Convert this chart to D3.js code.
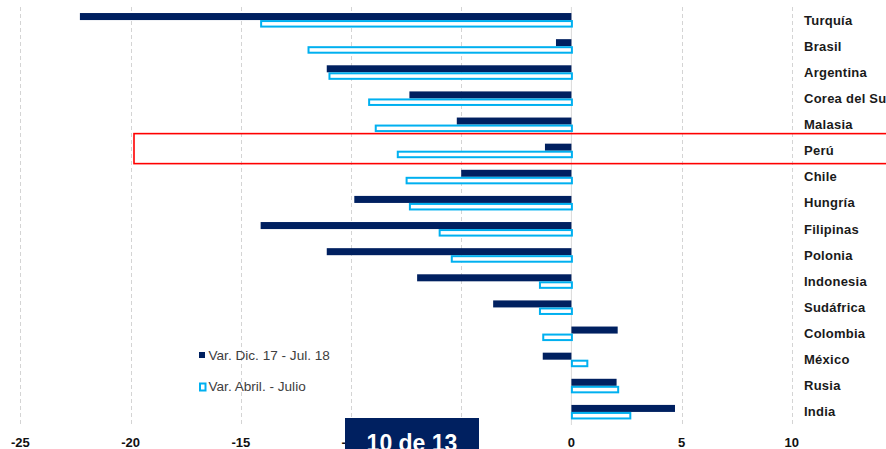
<!DOCTYPE html>
<html>
<head>
<meta charset="utf-8">
<script src="https://cdn.jsdelivr.net/npm/d3@7"></script>
<style>
  html, body { margin: 0; padding: 0; background: #fff; }
  svg { display: block; }
  text { font-family: "Liberation Sans", Arial, sans-serif; }
</style>
</head>
<body>
<svg id="chart" width="886" height="449"></svg>
<script>
const categories = ["Turquía","Brasil","Argentina","Corea del Sur","Malasia","Perú","Chile","Hungría","Filipinas","Polonia","Indonesia","Sudáfrica","Colombia","México","Rusia","India"];
const seriesNames = ["Var. Dic. 17 - Jul. 18", "Var. Abril. - Julio"];
const varDicJul = [-22.3,-0.7,-11.1,-7.35,-5.2,-1.2,-5.0,-9.85,-14.1,-11.1,-7.0,-3.55,2.1,-1.3,2.05,4.7];
const varAbrJul = [-14.1,-11.95,-11.0,-9.2,-8.9,-7.9,-7.5,-7.35,-6.0,-5.45,-1.45,-1.45,-1.3,0.7,2.1,2.65];
const xTicks = [-25,-20,-15,-10,-5,0,5,10];
const highlight = "Perú";
const pageLabel = "10 de 13";

const svg = d3.select("#chart");
const navy = "#002060", sky = "#00b0f0";

const x = d3.scaleLinear().domain([-25, 15]).range([20.4, 902.0]);
const y = d3.scaleBand().domain(categories).range([7, 425]);
const sub = d3.scaleBand().domain(seriesNames).range([0, y.bandwidth()]).paddingOuter(0.86);

// gridlines
svg.append("g").selectAll("line").data(xTicks.filter(d => d !== 0)).join("line")
  .attr("x1", d => Math.round(x(d)) + 0.5).attr("x2", d => Math.round(x(d)) + 0.5)
  .attr("y1", 7).attr("y2", 424)
  .attr("stroke", "#d4d4d4").attr("stroke-width", 1).attr("stroke-dasharray", "4,3");

// zero line
svg.append("line")
  .attr("x1", x(0)).attr("x2", x(0)).attr("y1", 7).attr("y2", 425)
  .attr("stroke", "#d9d9d9").attr("stroke-width", 1);

// dark bars
svg.append("g").selectAll("rect").data(categories).join("rect")
  .attr("x", (d, i) => x(Math.min(0, varDicJul[i])))
  .attr("y", d => y(d) + sub(seriesNames[0]))
  .attr("width", (d, i) => Math.abs(x(varDicJul[i]) - x(0)))
  .attr("height", sub.bandwidth())
  .attr("fill", navy);

// light outlined bars
svg.append("g").selectAll("rect").data(categories).join("rect")
  .attr("x", (d, i) => x(Math.min(0, varAbrJul[i])) + 0.5)
  .attr("y", d => y(d) + sub(seriesNames[1]) + 1)
  .attr("width", (d, i) => Math.max(0, Math.abs(x(varAbrJul[i]) - x(0))))
  .attr("height", sub.bandwidth() - 1.5)
  .attr("fill", "#fff").attr("stroke", sky).attr("stroke-width", 2);

// category labels
svg.append("g").selectAll("text").data(categories).join("text")
  .attr("x", 804).attr("y", d => y(d) + y.bandwidth() / 2 + 4.5)
  .attr("font-size", 13).attr("font-weight", "bold").attr("letter-spacing", 0.25)
  .attr("fill", "#1a1a1a").text(d => d);

// x tick labels
svg.append("g").selectAll("text").data(xTicks).join("text")
  .attr("x", d => x(d)).attr("y", 446.5).attr("text-anchor", "middle")
  .attr("font-size", 13).attr("font-weight", "bold").attr("fill", "#111")
  .text(d => d);

// highlight box
svg.append("rect")
  .attr("x", 134).attr("y", y(highlight) - 4)
  .attr("width", 780).attr("height", 30)
  .attr("fill", "none").attr("stroke", "#ff0000").attr("stroke-width", 1.6);

// legend
const lg = svg.append("g");
lg.append("rect").attr("x", 199).attr("y", 352).attr("width", 6).attr("height", 6).attr("fill", navy);
lg.append("text").attr("x", 208.5).attr("y", 359.5).attr("font-size", 13.6).attr("fill", "#404040").text(seriesNames[0]);
lg.append("rect").attr("x", 200).attr("y", 383.5).attr("width", 5.5).attr("height", 7).attr("fill", "#fff").attr("stroke", sky).attr("stroke-width", 2);
lg.append("text").attr("x", 208.5).attr("y", 391).attr("font-size", 13.6).attr("fill", "#404040").text(seriesNames[1]);

// page box
svg.append("rect").attr("x", 345).attr("y", 418).attr("width", 134).attr("height", 40).attr("fill", navy);
svg.append("text").attr("x", 412).attr("y", 450.5).attr("text-anchor", "middle")
  .attr("font-size", 23).attr("font-weight", "bold").attr("fill", "#fff").text(pageLabel);
</script>
</body>
</html>
